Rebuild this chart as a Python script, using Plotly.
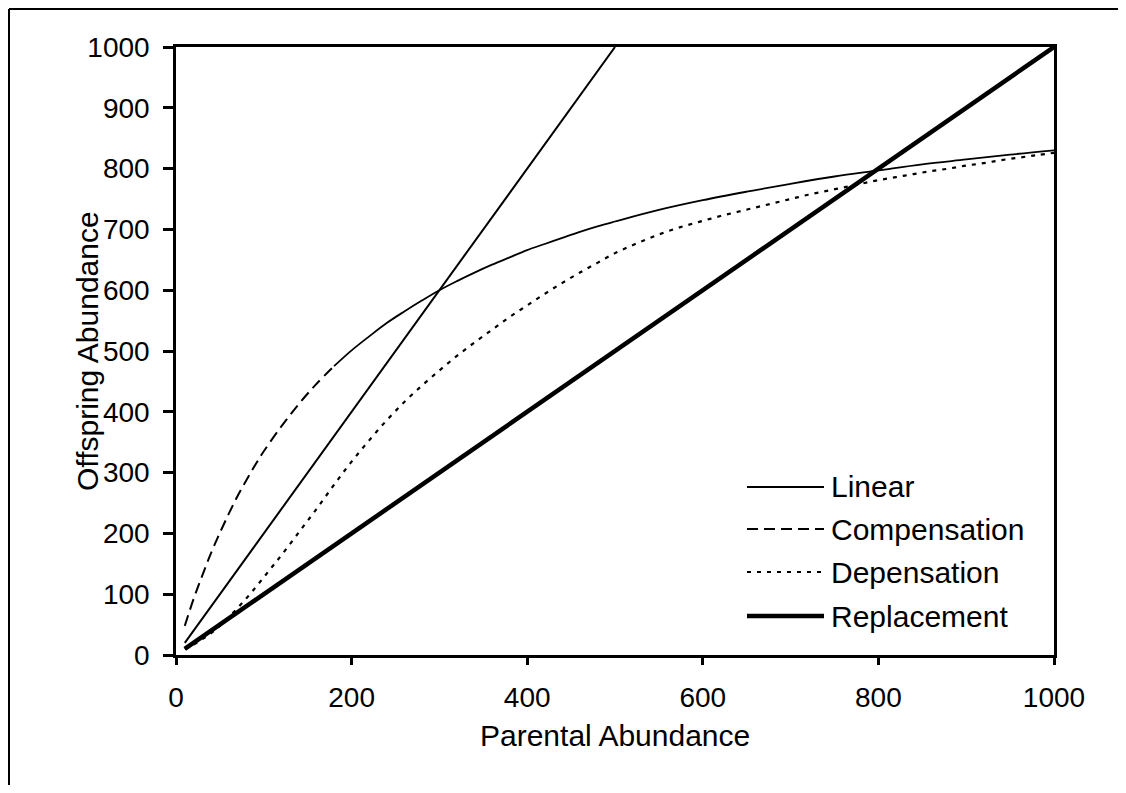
import plotly.graph_objects as go

# ---- data ----
linear_x = [10, 500]
linear_y = [20, 1000]

comp_x = [10, 20, 30, 40, 50, 60, 70, 80, 90, 100,
          120, 140, 160, 180, 200, 220, 240, 260, 280, 300,
          320, 340, 360, 380, 400, 420, 440, 460, 480, 500,
          550, 600, 650, 700, 750, 800, 850, 900, 950, 1000]
comp_y = [48, 92, 131, 168, 201, 232, 261, 287, 312, 335,
          376, 413, 446, 475, 501, 524, 546, 565, 583, 600,
          615, 629, 642, 654, 666, 676, 686, 696, 705, 713,
          732, 748, 762, 775, 787, 797, 807, 815, 823, 830]

dep_x = [10, 20, 30, 40, 50, 60, 70, 80, 90, 100, 110, 120,
         140, 160, 180, 200, 220, 240, 260, 280, 300, 320,
         340, 360, 380, 400, 420, 440, 460, 480, 500, 520,
         540, 560, 580, 600, 620, 640, 660, 680, 700, 720,
         740, 760, 780, 800, 820, 840, 860, 880, 900, 920,
         940, 960, 980, 1000]
dep_y = [10, 17, 26, 36, 48, 62, 77, 93, 110, 128, 146, 164,
         202, 240, 280, 318, 353, 386, 416, 443, 468, 492,
         514, 535, 556, 575, 594, 612, 629, 645, 661, 674,
         686, 697, 706, 714, 722, 729, 736, 743, 750, 757,
         763, 769, 775, 781, 786, 791, 796, 800, 805, 809,
         814, 818, 822, 826]

repl_x = [10, 1000]
repl_y = [10, 1000]

series_names = ["Linear", "Compensation", "Depensation", "Replacement"]
x_ticks = [0, 200, 400, 600, 800, 1000]
y_ticks = [0, 100, 200, 300, 400, 500, 600, 700, 800, 900, 1000]

# ---- styles ----
FONT = "Liberation Sans, Arial, sans-serif"
FS_TICK = 28
FS_TEXT = 30
COMP_DASH = "11px,6px"
DEP_DASH = "4px,6px"
split = comp_x.index(180)

fig = go.Figure()
fig.add_trace(go.Scatter(x=linear_x, y=linear_y, mode="lines", name=series_names[0],
                         line=dict(color="black", width=2), showlegend=False))
fig.add_trace(go.Scatter(x=comp_x[:split + 1], y=comp_y[:split + 1], mode="lines",
                         name=series_names[1], line=dict(color="black", width=2, dash=COMP_DASH,
                                                         shape="spline"), showlegend=False))
fig.add_trace(go.Scatter(x=comp_x[split:], y=comp_y[split:], mode="lines",
                         name=series_names[1], line=dict(color="black", width=1.8, shape="spline"),
                         showlegend=False))
fig.add_trace(go.Scatter(x=dep_x, y=dep_y, mode="lines", name=series_names[2],
                         line=dict(color="black", width=2.2, dash=DEP_DASH, shape="spline"),
                         showlegend=False))
fig.add_trace(go.Scatter(x=repl_x, y=repl_y, mode="lines", name=series_names[3],
                         line=dict(color="black", width=4.5), showlegend=False))

# ---- geometry (page offset of 8px from the html body margin) ----
OFF = 8
W, H = 1110, 777
L, T, R, B = 176 - OFF, 47 - OFF, 1054 - OFF, 655 - OFF


def fig2paper(fx, fy):
    return (fx - L) / (R - L), (B - fy) / (B - T)


def page2paper(px, py):
    return fig2paper(px - OFF, py - OFF)


# ---- manual legend (long line samples like the original) ----
leg_rows = [487, 529, 572, 616]
leg_styles = [dict(width=2, dash="solid"), dict(width=2, dash=COMP_DASH),
              dict(width=2, dash=DEP_DASH), dict(width=4.5, dash="solid")]
shapes = []
annotations = []
for name, py, st in zip(series_names, leg_rows, leg_styles):
    x0, y0 = page2paper(747, py)
    x1, _ = page2paper(824, py)
    shapes.append(dict(type="line", xref="paper", yref="paper", x0=x0, x1=x1, y0=y0, y1=y0,
                       line=dict(color="black", width=st["width"], dash=st["dash"])))
    tx, _ = page2paper(829, py)
    annotations.append(dict(xref="paper", yref="paper", x=tx, y=y0, text=name, showarrow=False,
                            xanchor="left", yanchor="middle",
                            font=dict(family=FONT, size=FS_TEXT, color="black")))

# outer frame (left and top edges visible in the scan)
fx0, fy0 = fig2paper(1, 1)
fx1, fy1 = fig2paper(W, H)
shapes.append(dict(type="line", xref="paper", yref="paper", x0=fx0, x1=fx0, y0=fy0, y1=fy1,
                   line=dict(color="black", width=2)))
shapes.append(dict(type="line", xref="paper", yref="paper", x0=fx0, x1=fx1, y0=fy0, y1=fy0,
                   line=dict(color="black", width=2)))

# axis titles
_, xt_y = page2paper(615, 735)
annotations.append(dict(xref="paper", yref="paper", x=0.5, y=xt_y, text="Parental Abundance",
                        showarrow=False, xanchor="center", yanchor="middle",
                        font=dict(family=FONT, size=FS_TEXT, color="black")))
yt_x, _ = page2paper(87, 351)
annotations.append(dict(xref="paper", yref="paper", x=yt_x, y=0.5, text="Offspring Abundance",
                        showarrow=False, xanchor="center", yanchor="middle", textangle=-90,
                        font=dict(family=FONT, size=FS_TEXT, color="black")))

fig.update_layout(
    width=W, height=H,
    margin=dict(l=L, r=W - R, t=T, b=H - B, pad=0),
    paper_bgcolor="white", plot_bgcolor="white",
    font=dict(family=FONT, size=FS_TICK, color="black"),
    shapes=shapes, annotations=annotations,
    showlegend=False,
)
fig.update_xaxes(range=[0, 1000], tickvals=x_ticks, ticktext=[str(v) for v in x_ticks],
                 showgrid=False, zeroline=False, showline=True, linecolor="black", linewidth=2.5,
                 mirror=True, ticks="outside", ticklen=7, tickwidth=2.5, tickcolor="black",
                 ticklabelstandoff=9, tickfont=dict(family=FONT, size=FS_TICK, color="black"))
fig.update_yaxes(range=[0, 1000], tickvals=y_ticks, ticktext=[str(v) for v in y_ticks],
                 showgrid=False, zeroline=False, showline=True, linecolor="black", linewidth=2.5,
                 mirror=True, ticks="outside", ticklen=10, tickwidth=2.5, tickcolor="black",
                 ticklabelstandoff=8, tickfont=dict(family=FONT, size=FS_TICK, color="black"))

fig.write_html("out.html")
